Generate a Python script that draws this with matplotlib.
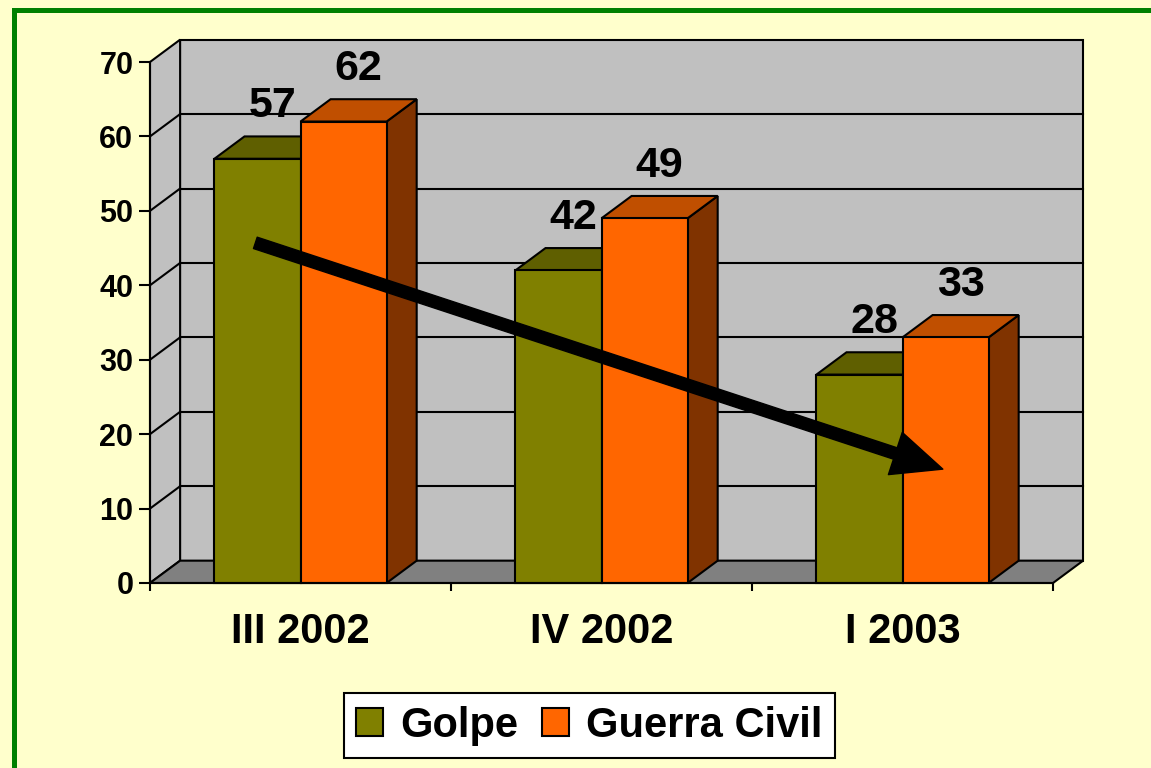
import matplotlib
matplotlib.use('Agg')
import matplotlib.pyplot as plt
from matplotlib.patches import Polygon, Rectangle, Patch, FancyArrowPatch

#%% data
categories = ['III 2002', 'IV 2002', 'I 2003']
golpe = [57, 42, 28]
guerra = [62, 49, 33]
series_names = ['Golpe', 'Guerra Civil']
yticks = [0, 10, 20, 30, 40, 50, 60, 70]

#%% style
plt.rcParams['font.family'] = ['Liberation Sans', 'DejaVu Sans']
plt.rcParams['font.weight'] = 'bold'
bg = '#FFFFCC'
wall = '#C0C0C0'
floor = '#808080'
front = ['#808000', '#FF6600']
top = ['#5F5F00', '#C04F00']
side = ['#404000', '#803300']
dx, dy = 0.1, 3.0      # depth offset (data units)
bw = 0.286             # bar width

fig = plt.figure(figsize=(11.51, 7.68), dpi=100, facecolor=bg)
ax = fig.add_axes([150/1151, 1-583/768, 903/1151, 521/768])
ax.set_facecolor('none')
ax.set_xlim(0, len(categories))
ax.set_ylim(0, 70)
ymax = yticks[-1]
n = len(categories)

# walls + floor
ax.add_patch(Polygon([(dx, dy), (n+dx, dy), (n+dx, ymax+dy), (dx, ymax+dy)],
                     facecolor=wall, edgecolor='black', lw=1.5, clip_on=False, zorder=1))
ax.add_patch(Polygon([(0, 0), (dx, dy), (dx, ymax+dy), (0, ymax)],
                     facecolor=wall, edgecolor='black', lw=1.5, clip_on=False, zorder=1))
ax.add_patch(Polygon([(0, 0), (n, 0), (n+dx, dy), (dx, dy)],
                     facecolor=floor, edgecolor='black', lw=1.5, clip_on=False, zorder=1))
for v in yticks[1:-1]:
    ax.plot([dx, n+dx], [v+dy, v+dy], color='black', lw=1.5, clip_on=False, zorder=1.5)
    ax.plot([0, dx], [v, v+dy], color='black', lw=1.5, clip_on=False, zorder=1.5)

# bars
for i in range(n):
    c = i + 0.5
    for j, vals in enumerate([golpe, guerra]):
        x0 = c - bw + j*bw
        x1 = x0 + bw
        v = vals[i]
        z = 3 + j
        ax.add_patch(Polygon([(x1, 0), (x1+dx, dy), (x1+dx, v+dy), (x1, v)],
                             facecolor=side[j], edgecolor='black', lw=1.5, clip_on=False, zorder=z))
        ax.add_patch(Polygon([(x0, v), (x1, v), (x1+dx, v+dy), (x0+dx, v+dy)],
                             facecolor=top[j], edgecolor='black', lw=1.5, clip_on=False, zorder=z))
        ax.add_patch(Rectangle((x0, 0), bw, v, facecolor=front[j], edgecolor='black',
                               lw=1.5, clip_on=False, zorder=z))
        ax.annotate(str(v), xy=(x0 + bw/2 + dx/2, v + dy), xytext=(0, 14),
                    textcoords='offset points', ha='center', va='baseline',
                    fontsize=31, fontweight='bold', zorder=10, annotation_clip=False)

# trend arrow
arr = FancyArrowPatch((0.35, 45.7), (2.634, 15.3),
                      arrowstyle='simple,head_length=36,head_width=32,tail_width=8.6',
                      mutation_scale=1, facecolor='black', edgecolor='black', lw=1,
                      zorder=8, clip_on=False, shrinkA=0, shrinkB=0)
ax.add_patch(arr)

# axes
for s in ['top', 'right']:
    ax.spines[s].set_visible(False)
for s in ['left', 'bottom']:
    ax.spines[s].set_linewidth(1.5)
    ax.spines[s].set_zorder(6)
ax.set_yticks(yticks)
ax.set_yticklabels([str(t) for t in yticks], fontsize=22, fontweight='bold')
ax.tick_params(axis='y', length=8, width=1.5, pad=4)
ax.set_xticks(range(n+1))
ax.set_xticklabels([])
ax.tick_params(axis='x', which='major', length=6, width=1.5)
ax.set_xticks([i + 0.5 for i in range(n)], minor=True)
ax.set_xticklabels(categories, minor=True, fontsize=30, fontweight='bold')
ax.tick_params(axis='x', which='minor', length=0, pad=21)

# legend
handles = [Patch(facecolor=front[0], edgecolor='black', lw=1.5),
           Patch(facecolor=front[1], edgecolor='black', lw=1.5)]
leg = fig.legend(handles, series_names, loc='center', bbox_to_anchor=(0.512, 0.0547),
                 ncol=2, fontsize=30, frameon=True, fancybox=False, edgecolor='black',
                 facecolor='white', framealpha=1, handlelength=0.65, handleheight=0.65,
                 handletextpad=0.42, columnspacing=0.55, borderpad=0.3)
leg.get_frame().set_linewidth(1.5)
for t in leg.get_texts():
    t.set_fontweight('bold')

# green frame
fig.add_artist(Rectangle((14/1151, -0.1), 1.2, (768-9.5)/768 + 0.1, transform=fig.transFigure,
                         facecolor='none', edgecolor='#008000', lw=3.6))

fig.savefig('out.png', dpi=100, facecolor=bg)
